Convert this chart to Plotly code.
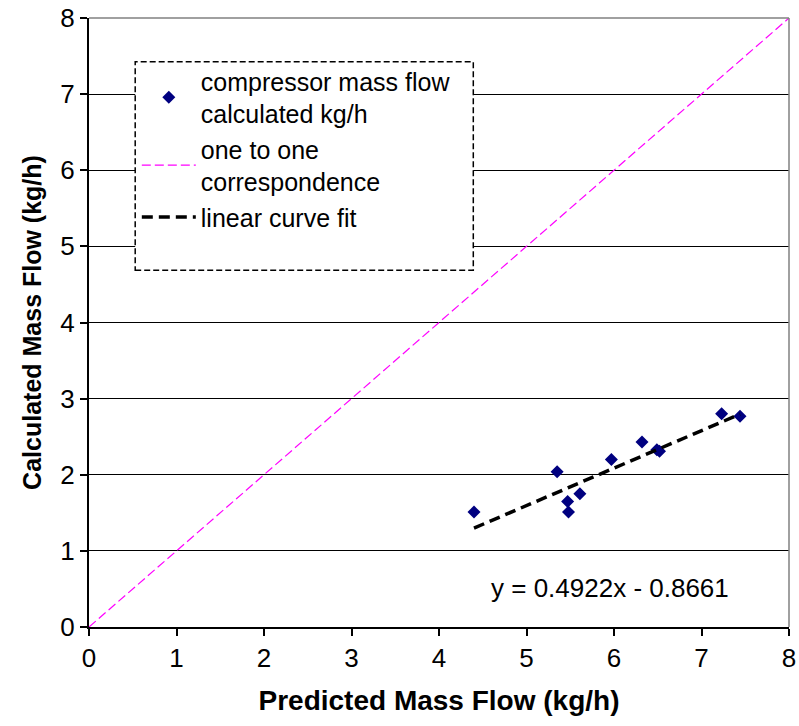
import plotly.graph_objects as go

# Data
predicted = [4.40, 5.35, 5.47, 5.48, 5.61, 5.97, 6.32, 6.49, 6.52, 7.23, 7.44]
calculated = [1.51, 2.04, 1.65, 1.51, 1.75, 2.20, 2.43, 2.33, 2.31, 2.80, 2.77]
one_to_one = [0, 8]
fit_slope = 0.4922
fit_intercept = -0.8661
tick_vals = [0, 1, 2, 3, 4, 5, 6, 7, 8]

fit_x = [min(predicted), max(predicted)]
fit_y = [fit_slope * v + fit_intercept for v in fit_x]

FONT = "Liberation Sans, Arial, sans-serif"

fig = go.Figure()
fig.add_trace(go.Scatter(
    x=one_to_one, y=one_to_one, mode="lines",
    name="one to one<br>correspondence",
    line=dict(color="#ff00ff", width=1.2, dash="9px,4px"),
    legendrank=2,
))
fig.add_trace(go.Scatter(
    x=predicted, y=calculated, mode="markers",
    name="compressor mass flow<br>calculated kg/h",
    marker=dict(symbol="diamond", color="#000080", size=10),
    legendrank=1,
))
fig.add_trace(go.Scatter(
    x=fit_x, y=fit_y, mode="lines",
    name="linear curve fit",
    line=dict(color="black", width=3.5, dash="11px,6px"),
    legendrank=3,
))

fig.add_annotation(
    x=0.744, y=0.064, xref="paper", yref="paper",
    text=f"y = {fit_slope}x - {abs(fit_intercept)}",
    showarrow=False, font=dict(family=FONT, size=26, color="black"),
    xanchor="center", yanchor="middle",
)

# Legend box (dashed border)
fig.add_shape(type="rect", xref="paper", yref="paper",
              x0=0.066, x1=0.549, y0=0.586, y1=0.928,
              line=dict(color="black", width=1.5, dash="6px,3px"),
              fillcolor="white", layer="above")
# Top and right plot border (gray)
fig.add_shape(type="line", xref="paper", yref="paper", x0=0, x1=1, y0=1, y1=1,
              line=dict(color="#808080", width=1.5))
fig.add_shape(type="line", xref="paper", yref="paper", x0=1, x1=1, y0=0, y1=1,
              line=dict(color="#808080", width=1.5))

fig.update_layout(
    width=799, height=726,
    margin=dict(l=89, r=10, t=18, b=99),
    paper_bgcolor="white", plot_bgcolor="white",
    font=dict(family=FONT, size=26, color="black"),
    showlegend=True,
    legend=dict(x=0.0683, y=0.934, xanchor="left", yanchor="top",
                bgcolor="rgba(0,0,0,0)", borderwidth=0,
                font=dict(family=FONT, size=25, color="black"),
                tracegroupgap=2, itemwidth=54),
    xaxis=dict(range=[0, 8], tickvals=tick_vals, showgrid=False, zeroline=False,
               showline=True, linecolor="black", linewidth=2, automargin=False,
               ticks="outside", ticklen=7, tickwidth=1.5, tickcolor="black",
               tickfont=dict(family=FONT, size=26), ticklabeloverflow="allow",
               title=dict(text="<b>Predicted Mass Flow (kg/h)</b>",
                          font=dict(family=FONT, size=28), standoff=18)),
    yaxis=dict(range=[0, 8], tickvals=tick_vals, showgrid=True, gridcolor="black",
               gridwidth=1, zeroline=False, automargin=False,
               showline=True, linecolor="black", linewidth=2,
               ticks="outside", ticklen=7, tickwidth=1.5, tickcolor="black",
               tickfont=dict(family=FONT, size=26), ticklabeloverflow="allow",
               title=dict(text="<b>Calculated Mass Flow (kg/h)</b>",
                          font=dict(family=FONT, size=25), standoff=12)),
)

fig.write_html(
    "out.html",
    config={"displayModeBar": False},
    post_script="document.body.style.margin='0';document.body.style.overflow='hidden';",
)
